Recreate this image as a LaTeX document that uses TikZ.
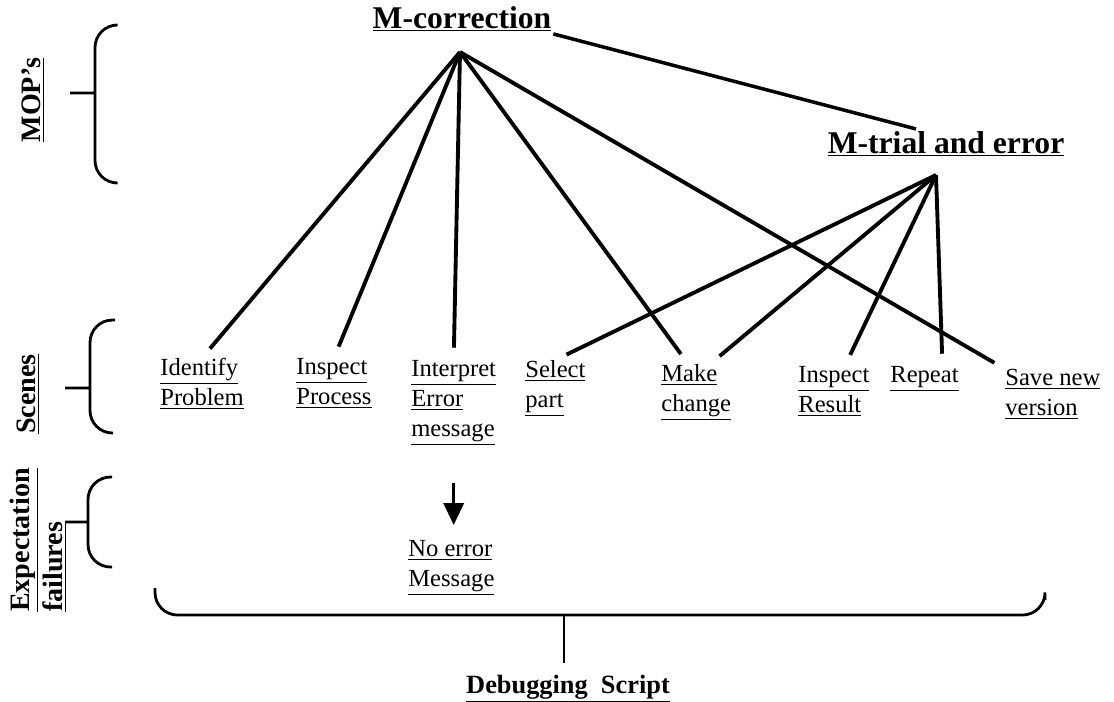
\documentclass[tikz,border=0pt]{standalone}
\usepackage{fontspec}
\setmainfont{Liberation Serif}
\usetikzlibrary{arrows.meta}

\begin{document}
\begin{tikzpicture}[x=0.02cm,y=-0.02cm,
    scene/.style={anchor=north west, align=left, inner sep=0pt,
                  font=\fontsize{14}{17}\selectfont},
    mop/.style={anchor=base, inner sep=1pt,
                font=\fontsize{18}{22}\selectfont\bfseries},
    side/.style={rotate=90, align=left, inner sep=0pt,
                 font=\fontsize{16}{19}\selectfont\bfseries},
    link/.style={line width=2.2pt, shorten >=7pt},
    bracket/.style={line width=1.6pt, rounded corners=0.45cm}]
\useasboundingbox (0,0) rectangle (1114,701);

% MOP's
\node[mop] (mcorr) at (462,28) {\underline{M-correction}};
\node[mop] (mtrial) at (946,153) {\underline{M-trial and error}};
\coordinate (mcapex) at (460,52);
\coordinate (mtapex) at (936,175);
\draw[line width=2pt] (mcorr.south east) -- ([xshift=-0.6cm]mtrial.north);

% Scenes
\node[scene] (identify)  at (160,358) {\underline{Identify}\\\underline{Problem}};
\node[scene] (process)   at (296,358) {\underline{Inspect}\\\underline{Process}};
\node[scene] (interpret) at (411,360) {\underline{Interpret}\\\underline{Error}\\\underline{message}};
\node[scene] (select)    at (525,360) {\underline{Select}\\\underline{part}};
\node[scene] (make)      at (661,364) {\underline{Make}\\\underline{change}};
\node[scene] (result)    at (798,366) {\underline{Inspect}\\\underline{Result}};
\node[scene] (repeat)    at (890,366) {\underline{Repeat}};
\node[scene] (save)      at (1005,369) {\underline{Save new}\\\underline{version}};

% M-correction links
\draw[link] (mcapex) -- (identify.north);
\draw[link] (mcapex) -- (process.north);
\draw[link] (mcapex) -- (interpret.north);
\draw[link] (mcapex) -- ([xshift=-0.16cm]make.north);
\draw[link] (mcapex) -- (save.north west);

% M-trial and error links
\draw[link] (mtapex) -- (select.north);
\draw[link] (mtapex) -- ([xshift=0.28cm]make.north);
\draw[link] (mtapex) -- ([xshift=0.22cm]result.north);
\draw[link] (mtapex) -- ([xshift=0.36cm]repeat.north);

% Expectation failure
\node[scene] (noerror) at (408,540) {\underline{No error}\\\underline{Message}};
\draw[line width=2pt, shorten <=0.75cm, shorten >=0.3cm,
      -{Triangle[length=0.44cm,width=0.4cm]}]
    (interpret.south) -- (interpret.south |- noerror.north);

% Side labels and brackets
\node[side] (mops)   at (33,100) {\underline{MOP's}};
\node[side] (scenes) at (28,394) {\underline{Scenes}};
\node[side] (expect) at (38,540) {\underline{Expectation}\\\underline{failures}};
\draw[bracket] (117,25) -- (95,25) -- (95,183) -- (117,183)
               (95,93) -- (70,93);
\draw[bracket] (115,320) -- (90,320) -- (90,433) -- (113,433)
               (90,388) -- (65,388);
\draw[bracket] (112,477) -- (88,477) -- (88,567) -- (112,567)
               (88,522) -- (65,522);

% Debugging script
\node[mop, font=\fontsize{15}{18}\selectfont\bfseries] (debug) at (568,693)
    {\underline{Debugging\ \ Script}};
\coordinate (bracemid) at (564,615);
\draw[bracket] (155,588) -- (155,615) -- (1045,615) -- (1045,600);
\draw[line width=1.6pt, shorten >=0.2cm] (bracemid) -- (bracemid |- debug.north);
\end{tikzpicture}
\end{document}
